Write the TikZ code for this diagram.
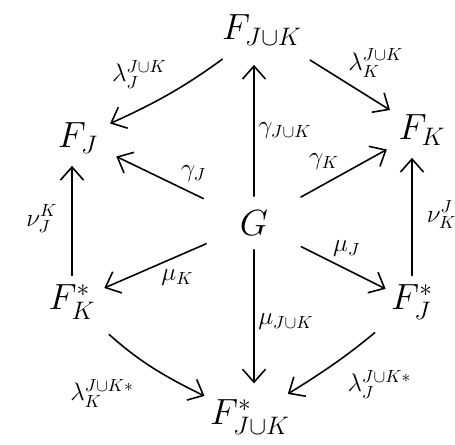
\documentclass[tikz,border=0pt]{standalone}
\usepackage{amsmath,amssymb}
\usetikzlibrary{arrows.meta}
\tikzset{
  obj/.style={font=\huge,inner sep=3pt},
  lab/.style={font=\Large,inner sep=2pt},
  map/.style={-{Straight Barb[length=2.6mm,width=4.6mm]},line width=0.9pt,line cap=round},
}
\begin{document}
\begin{tikzpicture}[x=0.02cm,y=-0.02cm]
          \useasboundingbox (0,0) rectangle (455,444);
          % the seven objects
          \node[obj] (FJK) at (262,30) {$F_{J\cup K}$};
          \node[obj] (FJ) at (78,138) {$F_{J}$};
          \node[obj] (FK) at (422,130) {$F_{K}$};
          \node[obj,inner sep=8pt] (G) at (254,223) {$G$};
          \node[obj] (FKs) at (72,302) {$F^{*}_{K}$};
          \node[obj] (FJs) at (412,302) {$F^{*}_{J}$};
          \node[obj] (FJKs) at (250,417) {$F^{*}_{J\cup K}$};
          % out of G
          \draw[map,shorten >=8pt] (G) -- node[lab,right,pos=0.45] (gJK) {$\gamma_{J\cup K}$} (G |- FJK.south);
          \draw[map,shorten <=14pt,shorten >=8pt] (G) -- node[lab,above right,pos=0.4] (gJ) {$\gamma_{J}$} (FJ);
          \draw[map,shorten <=12pt,shorten >=4pt] (G) -- node[lab,above left,pos=0.55] (gK) {$\gamma_{K}$} (FK);
          \draw[map,shorten <=12pt,shorten >=2pt] (G) -- node[lab,below right,pos=0.55] (mK) {$\mu_{K}$} (FKs);
          \draw[map,shorten <=12pt] (G) -- node[lab,above right,pos=0.45] (mJ) {$\mu_{J}$} (FJs);
          \draw[map,shorten >=6pt] (G) -- node[lab,right,pos=0.5] (mJK) {$\mu_{J\cup K}$} (G |- FJKs.north);
          % the outer hexagon
          \draw[map,shorten <=8pt,shorten >=4pt] (FJK) to[bend left=6] node[lab,above left] (lJ) {$\lambda^{J\cup K}_{J}$} (FJ);
          \draw[map,shorten <=10pt,shorten >=2pt] (FJK) -- node[lab,above right] (lK) {$\lambda^{J\cup K}_{K}$} (FK);
          \draw[map,shorten <=2pt,shorten >=4pt] (FKs.north) -- node[lab,left=6pt] (nJ) {$\nu^{K}_{J}$} (FKs.north |- FJ.south);
          \draw[map,shorten <=2pt,shorten >=4pt] (FJs.north) -- node[lab,right=6pt] (nK) {$\nu^{J}_{K}$} (FJs.north |- FK.south);
          \draw[map,shorten <=8pt] (FKs) to[bend right=8] node[lab,below left=6pt] (lKs) {$\lambda^{J\cup K *}_{K}$} (FJKs);
          \draw[map,shorten <=8pt] (FJs) to[bend left=4] node[lab,below right=3pt] (lJs) {$\lambda^{J\cup K *}_{J}$} (FJKs);
        \end{tikzpicture}
\end{document}
